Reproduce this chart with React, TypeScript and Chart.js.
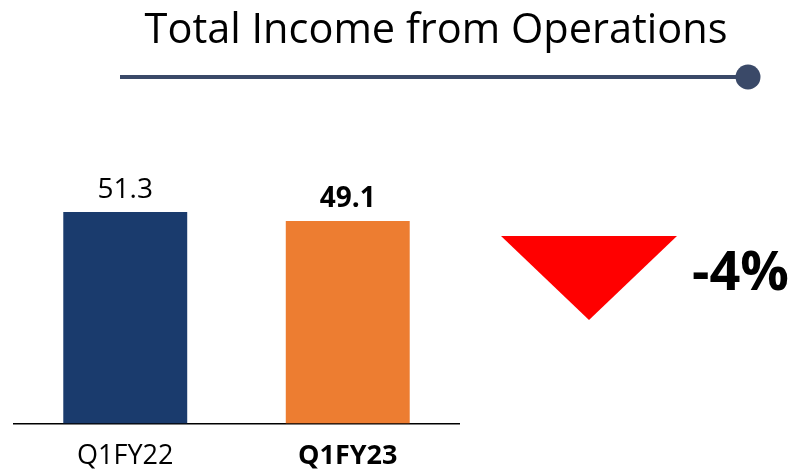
import React, { useEffect, useRef } from "react";
import { Chart, registerables } from "chart.js";

Chart.register(...registerables);

const categories = ["Q1FY22", "Q1FY23"];
const values = [51.3, 49.1];
const valueLabels = ["51.3", "49.1"];
const barColors = ["#1A3B6D", "#ED7D31"];
const boldFlags = [false, true];
const titleText = "Total Income from Operations";
const changeText = "-4%";

const FONT = "'Open Sans', sans-serif";

const overlayPlugin = {
  id: "overlay",
  afterDraw(chart: any) {
    const ctx = chart.ctx as CanvasRenderingContext2D;
    ctx.save();
    // title
    ctx.fillStyle = "#000000";
    ctx.font = `400 41.5px ${FONT}`;
    ctx.textAlign = "center";
    ctx.textBaseline = "alphabetic";
    ctx.fillText(titleText, 436, 43);
    // underline with dot
    ctx.strokeStyle = "#3A4968";
    ctx.lineWidth = 4;
    ctx.beginPath();
    ctx.moveTo(120, 77);
    ctx.lineTo(748, 77);
    ctx.stroke();
    ctx.fillStyle = "#3A4968";
    ctx.beginPath();
    ctx.arc(748, 77, 12.5, 0, Math.PI * 2);
    ctx.fill();
    // value labels
    const meta = chart.getDatasetMeta(0);
    meta.data.forEach((el: any, i: number) => {
      ctx.fillStyle = "#000000";
      ctx.font = `${boldFlags[i] ? 700 : 400} 28px ${FONT}`;
      ctx.textAlign = "center";
      ctx.textBaseline = "alphabetic";
      ctx.fillText(valueLabels[i], el.x, el.y - 14);
    });
    // red down triangle
    ctx.fillStyle = "#FF0000";
    ctx.beginPath();
    ctx.moveTo(501, 236);
    ctx.lineTo(677, 236);
    ctx.lineTo(589, 320);
    ctx.closePath();
    ctx.fill();
    // change text
    ctx.fillStyle = "#000000";
    ctx.font = `700 54px ${FONT}`;
    ctx.textAlign = "left";
    ctx.textBaseline = "alphabetic";
    ctx.fillText(changeText, 692, 290);
    ctx.restore();
  },
};

export default function App() {
  const ref = useRef<HTMLCanvasElement>(null);
  useEffect(() => {
    if (!ref.current) return;
    const chart = new Chart(ref.current, {
      type: "bar",
      data: {
        labels: categories,
        datasets: [
          {
            data: values,
            backgroundColor: barColors,
            borderWidth: 0,
            barPercentage: 0.557,
            categoryPercentage: 1,
          },
        ],
      },
      options: {
        responsive: false,
        animation: false,
        devicePixelRatio: 1,
        layout: { padding: { left: 14, right: 336, top: 176, bottom: -18 } },
        plugins: {
          legend: { display: false },
          title: { display: false },
          tooltip: { enabled: false },
        },
        scales: {
          x: {
            grid: { display: false, drawTicks: false },
            border: { display: true, color: "#000000", width: 1.5 },
            ticks: {
              color: "#000000",
              padding: 17,
              font: (c: any) => ({
                family: FONT,
                size: 27,
                weight: boldFlags[c.index] ? "bold" : "normal",
                lineHeight: 1.2,
              }),
            },
          },
          y: { display: false, min: 0, max: 60 },
        },
      },
      plugins: [overlayPlugin],
    });
    return () => chart.destroy();
  }, []);
  return (
    <div style={{ position: "fixed", left: 0, top: 0, width: 795, height: 472, background: "#fff" }}>
      <canvas ref={ref} width={795} height={472} style={{ display: "block" }} />
    </div>
  );
}
